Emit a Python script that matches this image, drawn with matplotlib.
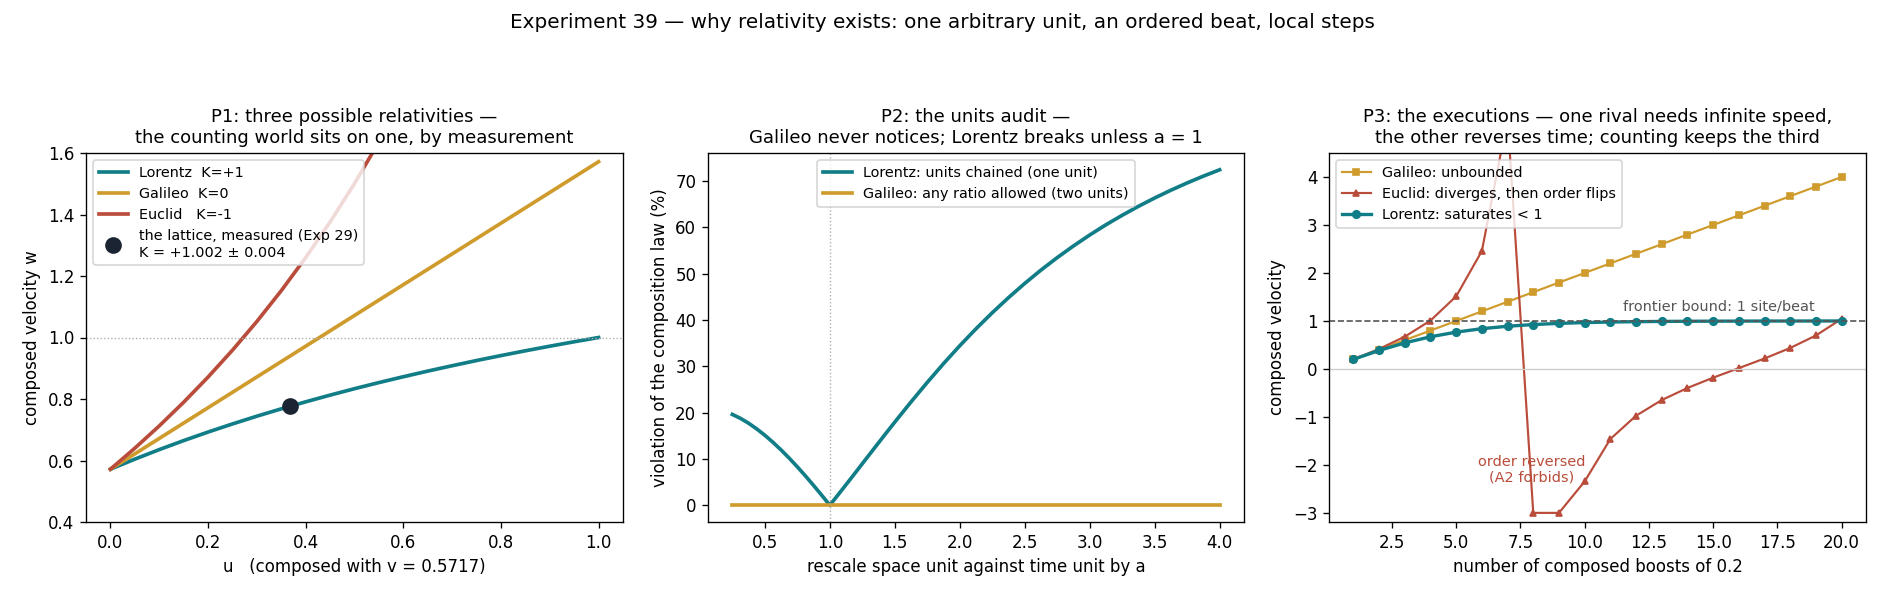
import matplotlib
matplotlib.use("Agg")
import matplotlib.pyplot as plt

# ---------------- data ----------------
V_FIXED = 0.5717
u_vals = [0.00, 0.05, 0.10, 0.15, 0.20, 0.25, 0.30, 0.35, 0.40, 0.45, 0.50,
          0.55, 0.60, 0.65, 0.70, 0.75, 0.80, 0.85, 0.90, 0.95, 1.00]
w_lorentz = [0.5717, 0.6044, 0.6354, 0.6647, 0.6925, 0.7189, 0.7441, 0.7680,
             0.7908, 0.8126, 0.8335, 0.8534, 0.8724, 0.8907, 0.9082, 0.9251,
             0.9412, 0.9568, 0.9717, 0.9861, 1.0000]
w_galileo = [0.5717, 0.6217, 0.6717, 0.7217, 0.7717, 0.8217, 0.8717, 0.9217,
             0.9717, 1.0217, 1.0717, 1.1217, 1.1717, 1.2217, 1.2717, 1.3217,
             1.3717, 1.4217, 1.4717, 1.5217, 1.5717]
u_euclid = [0.00, 0.05, 0.10, 0.15, 0.20, 0.25, 0.30, 0.35, 0.40, 0.45, 0.50, 0.55, 0.60]
w_euclid = [0.5717, 0.6400, 0.7124, 0.7894, 0.8713, 0.9587, 1.0521, 1.1523,
            1.2598, 1.3756, 1.5007, 1.6362, 1.7835]
lattice_u = [0.368]
lattice_w = [0.7773]

a_vals = [0.25, 0.3125, 0.375, 0.4375, 0.5, 0.5625, 0.625, 0.6875, 0.75, 0.8125,
          0.875, 0.9375, 1.0, 1.0625, 1.125, 1.1875, 1.25, 1.3125, 1.375, 1.4375,
          1.5, 1.625, 1.75, 1.875, 2.0, 2.125, 2.25, 2.375, 2.5, 2.625, 2.75,
          2.875, 3.0, 3.125, 3.25, 3.375, 3.5, 3.625, 3.75, 3.875, 4.0]
viol_lorentz = [19.60, 18.74, 17.70, 16.47, 15.10, 13.58, 11.93, 10.16, 8.29, 6.32,
                4.27, 2.16, 0.00, 2.21, 4.44, 6.69, 8.96, 11.22, 13.48, 15.72,
                17.94, 22.30, 26.51, 30.56, 34.42, 38.08, 41.54, 44.80, 47.87, 50.75, 53.44,
                55.96, 58.32, 60.53, 62.58, 64.51, 66.31, 67.99, 69.56, 71.03, 72.40]
viol_galileo = [0.0] * len(a_vals)

n_boosts = list(range(1, 21))
comp_galileo = [0.2, 0.4, 0.6, 0.8, 1.0, 1.2, 1.4, 1.6, 1.8, 2.0,
                2.2, 2.4, 2.6, 2.8, 3.0, 3.2, 3.4, 3.6, 3.8, 4.0]
comp_euclid = [0.2, 0.4167, 0.6727, 1.0084, 1.5137, 2.4577, 5.2270, -3.0, -3.0, -2.3446,
               -1.4602, -0.9752, -0.6487, -0.3971, -0.1826, 0.0167, 0.2175, 0.4363, 0.6973, 1.0427]
comp_lorentz = [0.2, 0.3846, 0.5429, 0.6701, 0.7673, 0.8386, 0.8894, 0.9249, 0.9493, 0.9659,
                0.9771, 0.9847, 0.9898, 0.9932, 0.9954, 0.9970, 0.9980, 0.9986, 0.9991, 0.9994]

C_L = "#117d86"
C_G = "#cf9b2c"
C_E = "#b94c3a"
C_PT = "#1b2433"

W, H = 1885, 598
DPI = 120
LEG_FS = 8.6
ANN_FS = 8.7
TITLE_FS = 10.8

fig = plt.figure(figsize=(W / DPI, H / DPI), dpi=DPI)
fig.suptitle("Experiment 39 — why relativity exists: one arbitrary unit, an ordered beat, local steps",
             fontsize=12, y=0.978)

def rect(x0, x1, y0=153, y1=522):
    return [x0 / W, 1 - y1 / H, (x1 - x0) / W, (y1 - y0) / H]

ax1 = fig.add_axes(rect(86, 623))
ax2 = fig.add_axes(rect(708, 1244))
ax3 = fig.add_axes(rect(1329, 1866))

# ---- P1 ----
ax1.plot(u_vals, w_lorentz, color=C_L, lw=2.2, label="Lorentz  K=+1")
ax1.plot(u_vals, w_galileo, color=C_G, lw=2.2, label="Galileo  K=0")
ax1.plot(u_euclid, w_euclid, color=C_E, lw=2.2, label="Euclid   K=-1")
ax1.axhline(1.0, color="#aaaaaa", lw=0.8, ls=":")
ax1.plot(lattice_u, lattice_w, "o", color=C_PT, ms=9, zorder=5,
         label="the lattice, measured (Exp 29)\nK = +1.002 ± 0.004")
ax1.set_ylim(0.4, 1.6)
ax1.set_xlabel("u   (composed with v = 0.5717)")
ax1.set_ylabel("composed velocity w")
ax1.set_title("P1: three possible relativities —\nthe counting world sits on one, by measurement",
              fontsize=TITLE_FS)
ax1.legend(loc="upper left", fontsize=LEG_FS)

# ---- P2 ----
ax2.plot(a_vals, viol_lorentz, color=C_L, lw=2.2, label="Lorentz: units chained (one unit)")
ax2.plot(a_vals, viol_galileo, color=C_G, lw=2.2, label="Galileo: any ratio allowed (two units)")
ax2.axvline(1.0, color="#aaaaaa", lw=0.8, ls=":")
ax2.set_xlabel("rescale space unit against time unit by a")
ax2.set_ylabel("violation of the composition law (%)")
ax2.set_title("P2: the units audit —\nGalileo never notices; Lorentz breaks unless a = 1", fontsize=TITLE_FS)
ax2.legend(loc="upper center", fontsize=LEG_FS)

# ---- P3 ----
ax3.plot(n_boosts, comp_galileo, "-s", color=C_G, lw=1.3, ms=4, label="Galileo: unbounded")
ax3.plot(n_boosts, comp_euclid, "-^", color=C_E, lw=1.3, ms=4, label="Euclid: diverges, then order flips")
ax3.plot(n_boosts, comp_lorentz, "-o", color=C_L, lw=2.0, ms=4.5, label="Lorentz: saturates < 1")
ax3.axhline(1.0, color="#555555", lw=1.0, ls="--")
ax3.axhline(0.0, color="#cccccc", lw=0.8)
ax3.text(11.5, 1.15, "frontier bound: 1 site/beat", fontsize=ANN_FS, color="#555555", va="bottom")
ax3.text(7.95, -2.1, "order reversed\n(A2 forbids)", fontsize=ANN_FS, color=C_E, ha="center", va="center",
         multialignment="center")
ax3.set_ylim(-3.19, 4.5)
ax3.set_xlabel("number of composed boosts of 0.2")
ax3.set_ylabel("composed velocity")
ax3.set_title("P3: the executions — one rival needs infinite speed,\nthe other reverses time; counting keeps the third",
              fontsize=TITLE_FS)
ax3.legend(loc="upper left", fontsize=LEG_FS)

fig.savefig("out.png", dpi=DPI)
